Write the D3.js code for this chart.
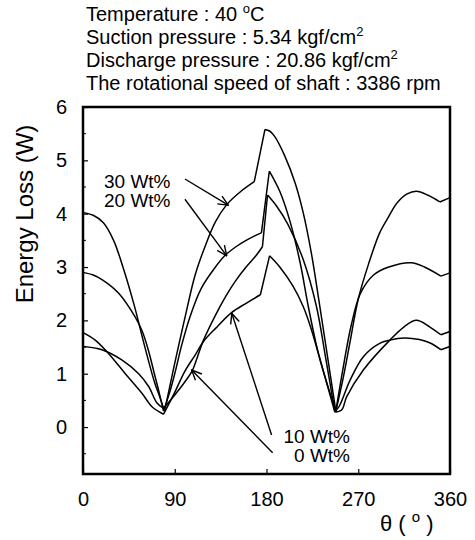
<!DOCTYPE html>
<html>
<head>
<meta charset="utf-8">
<script src="https://cdn.jsdelivr.net/npm/d3@7"></script>
<style>
  body { margin: 0; background: #fff; }
  text { font-family: "Liberation Sans", Arial, sans-serif; fill: #000; }
</style>
</head>
<body>
<div id="chart"></div>
<script>
// theta (deg) and energy loss (W), one pair of arrays per series
var theta30 = [0, 10, 20, 30, 40, 50, 60, 70, 75, 80, 85, 90, 100, 110, 120, 130, 141, 155, 168, 178.5, 183, 188, 198, 208, 216, 224, 232, 240, 248, 255, 262, 270, 280, 291, 300, 308, 318, 327, 338, 350, 360];
var loss30  = [4.02, 3.97, 3.83, 3.5, 2.95, 2.3, 1.55, 0.85, 0.58, 0.3, 0.75, 1.2, 2.05, 2.85, 3.4, 3.85, 4.17, 4.42, 4.6, 5.58, 5.55, 5.45, 5.08, 4.58, 4.02, 3.26, 2.3, 1.3, 0.3, 0.9, 1.6, 2.4, 3.05, 3.64, 3.95, 4.2, 4.37, 4.42, 4.35, 4.22, 4.3];

var theta20 = [0, 10, 19, 35, 51, 58, 64, 70, 74, 79, 85, 90, 97, 105, 116, 128, 139, 150, 160, 168, 175, 182.8, 193, 203, 213, 221, 230, 238, 248, 256, 263, 272, 285, 300, 322, 335, 351, 360];
var loss20  = [2.9, 2.85, 2.76, 2.51, 2.07, 1.8, 1.45, 1.0, 0.7, 0.3, 0.65, 1.0, 1.55, 2.07, 2.6, 2.95, 3.21, 3.38, 3.5, 3.58, 3.64, 4.8, 4.42, 3.86, 3.08, 2.26, 1.45, 0.9, 0.3, 1.2, 1.9, 2.5, 2.85, 3.0, 3.08, 3.0, 2.83, 2.89];

var theta10 = [0, 12, 25, 41.5, 58, 67.7, 79, 90, 100, 110, 118, 130, 146, 160, 174, 183, 193, 206, 216, 223, 235, 247, 253.7, 258.7, 275, 301, 315, 327, 340, 351, 360];
var loss10  = [1.77, 1.63, 1.38, 1.0, 0.63, 0.38, 0.24, 0.65, 1.05, 1.35, 1.6, 1.85, 2.15, 2.32, 2.48, 3.21, 3.0, 2.64, 2.26, 1.89, 1.1, 0.28, 0.32, 0.57, 1.07, 1.63, 1.88, 2.0, 1.88, 1.73, 1.79];

var theta0 = [0, 18.6, 38, 54.6, 64.4, 72.6, 79, 90, 100, 107, 112, 118, 130, 140, 150, 160, 170, 176, 181, 190, 201, 216, 229, 238, 247, 251, 262, 275, 291, 301, 315, 330, 340, 351, 360];
var loss0  = [1.51, 1.45, 1.26, 1.0, 0.76, 0.45, 0.35, 0.6, 0.85, 1.05, 1.3, 1.62, 2.1, 2.45, 2.75, 3.0, 3.22, 3.38, 4.35, 4.14, 3.8, 3.14, 2.26, 1.3, 0.3, 0.38, 0.88, 1.32, 1.57, 1.63, 1.67, 1.64, 1.58, 1.45, 1.51];

// angles where a curve has a sharp corner (minima, jumps, dips)
var kinks30 = [80, 168, 178.5, 248, 350];
var kinks20 = [79, 175, 182.8, 248, 351];
var kinks10 = [79, 174, 183, 247, 351];
var kinks0  = [79, 176, 181, 247, 351];

var xTicks = [0, 90, 180, 270, 360];
var yTicks = [0, 1, 2, 3, 4, 5, 6];

var headerLines = [
  ["Temperature : 40 ", "o", "C"],
  ["Suction pressure : 5.34 kgf/cm", "2", ""],
  ["Discharge pressure : 20.86 kgf/cm", "2", ""],
  ["The rotational speed of shaft : 3386 rpm", "", ""]
];

// label text, arrow start and arrow tip in data units
var arrowLabels = ["30 Wt%", "20 Wt%", "10 Wt%", "0 Wt%"];
var arrowFrom = [[100, 4.65], [100, 4.27], [185, -0.15], [186, -0.48]];
var arrowTo   = [[142.5, 4.16], [141, 3.21], [146, 2.13], [106.6, 1.07]];

var series = [
  { t: theta30, v: loss30, k: kinks30 },
  { t: theta20, v: loss20, k: kinks20 },
  { t: theta10, v: loss10, k: kinks10 },
  { t: theta0,  v: loss0,  k: kinks0 }
];

function drawChart() {
    var width = 475, height = 540;
    var plotL = 83, plotR = 450, plotT = 107, plotB = 474;

    var svg = d3.select("#chart").append("svg")
        .attr("width", width)
        .attr("height", height);

    var x = d3.scaleLinear().domain([0, 360]).range([plotL, plotR]);
    var y = d3.scaleLinear().domain([-0.88, 6]).range([plotB, plotT]);

    // header text
    var header = svg.append("g").attr("font-size", 20);
    var baselines = [21, 44, 67, 90];
    headerLines.forEach(function (parts, i) {
        var t = header.append("text").attr("x", 86).attr("y", baselines[i]);
        t.append("tspan").text(parts[0]);
        if (parts[1]) {
            t.append("tspan").attr("dy", -8).attr("font-size", 13).text(parts[1]);
            if (parts[2]) t.append("tspan").attr("dy", 8).attr("font-size", 20).text(parts[2]);
        }
    });

    // minor ticks
    var minorY = [-0.5, 0.5, 1.5, 2.5, 3.5, 4.5, 5.5];
    svg.selectAll(".minor-y").data(minorY).enter().append("line")
        .attr("x1", plotL).attr("x2", plotL + 3)
        .attr("y1", function (d) { return y(d); })
        .attr("y2", function (d) { return y(d); })
        .attr("stroke", "#000").attr("stroke-width", 1);

    // y axis
    var yAxis = d3.axisLeft(y).tickValues(yTicks).tickFormat(d3.format("d"))
        .tickSizeInner(-5).tickSizeOuter(0).tickPadding(16);
    var gy = svg.append("g").attr("transform", "translate(" + plotL + ",0)").call(yAxis);
    gy.select(".domain").remove();
    gy.selectAll("line").attr("stroke-width", 1.2);
    gy.selectAll("text").attr("font-size", 20).attr("font-family", "Liberation Sans, Arial, sans-serif");

    // x axis
    var xAxis = d3.axisBottom(x).tickValues(xTicks).tickFormat(d3.format("d"))
        .tickSizeInner(-5).tickSizeOuter(0).tickPadding(18);
    var gx = svg.append("g").attr("transform", "translate(0," + plotB + ")").call(xAxis);
    gx.select(".domain").remove();
    gx.selectAll("line").attr("stroke-width", 1.2);
    gx.selectAll("text").attr("font-size", 20).attr("font-family", "Liberation Sans, Arial, sans-serif");

    // frame
    svg.append("rect")
        .attr("x", plotL).attr("y", plotT)
        .attr("width", plotR - plotL).attr("height", plotB - plotT)
        .attr("fill", "none").attr("stroke", "#000").attr("stroke-width", 2.5);

    // curves: smooth between sharp corners
    var line = d3.line()
        .x(function (d) { return x(d[0]); })
        .y(function (d) { return y(d[1]); })
        .curve(d3.curveCatmullRom.alpha(0.5));

    function pieces(s) {
        var pts = d3.zip(s.t, s.v);
        var out = [], cur = [];
        pts.forEach(function (p) {
            cur.push(p);
            if (s.k.indexOf(p[0]) >= 0) {
                out.push(cur);
                cur = [p];
            }
        });
        if (cur.length > 1) out.push(cur);
        return out.map(function (c) { return line(c); }).join("");
    }

    svg.selectAll(".curve").data(series).enter().append("path")
        .attr("class", "curve")
        .attr("d", pieces)
        .attr("fill", "none")
        .attr("stroke", "#000")
        .attr("stroke-width", 1.5)
        .attr("stroke-linejoin", "round");

    // arrows
    svg.append("defs").append("marker")
        .attr("id", "head")
        .attr("viewBox", "0 0 12 12")
        .attr("refX", 11).attr("refY", 6)
        .attr("markerWidth", 12).attr("markerHeight", 12)
        .attr("markerUnits", "userSpaceOnUse")
        .attr("orient", "auto")
        .append("path")
        .attr("d", "M1,1.5 L11,6 L1,10.5")
        .attr("fill", "none").attr("stroke", "#000").attr("stroke-width", 1.4);

    arrowLabels.forEach(function (lbl, i) {
        svg.append("line")
            .attr("x1", x(arrowFrom[i][0])).attr("y1", y(arrowFrom[i][1]))
            .attr("x2", x(arrowTo[i][0])).attr("y2", y(arrowTo[i][1]))
            .attr("stroke", "#000").attr("stroke-width", 1.4)
            .attr("marker-end", "url(#head)");
    });

    // arrow labels
    var lblPos = [[104, 188, "start"], [104, 207, "start"], [350, 443, "end"], [350, 462, "end"]];
    arrowLabels.forEach(function (lbl, i) {
        svg.append("text")
            .attr("x", lblPos[i][0]).attr("y", lblPos[i][1])
            .attr("text-anchor", lblPos[i][2])
            .attr("font-size", 19)
            .text(lbl);
    });

    // axis titles
    svg.append("text")
        .attr("transform", "translate(33,214) rotate(-90)")
        .attr("text-anchor", "middle")
        .attr("font-size", 24)
        .text("Energy Loss (W)");

    var xt = svg.append("text")
        .attr("x", 380).attr("y", 531)
        .attr("font-size", 22);
    xt.append("tspan").text("θ ( ");
    xt.append("tspan").attr("dy", -9).attr("font-size", 15).text("o");
    xt.append("tspan").attr("dy", 9).attr("font-size", 22).text(" )");
}

drawChart();
</script>
</body>
</html>
